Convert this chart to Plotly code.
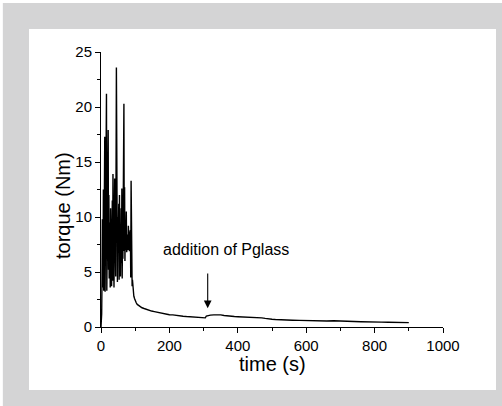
import plotly.graph_objects as go

# time (s) and torque (Nm)
time_s = [0, 1, 2, 3, 4, 5, 6, 7, 8, 9, 11, 12, 13, 14, 16, 17, 18, 19, 21, 22, 23, 24,
          26, 27, 28, 29, 30, 31, 33, 34, 35, 36, 37, 38, 40, 41, 42, 43, 45, 46, 47, 48,
          49, 50, 52, 53, 54, 55, 56, 57, 59, 60, 61, 62, 63, 64, 66, 67, 68, 69, 70, 71,
          72, 74, 75, 76, 77, 78, 79, 80, 81, 82, 83, 84, 85, 86, 87, 88, 89, 90, 91, 92,
          93, 94, 95, 96, 98, 100, 103, 106, 110, 115, 120, 126, 132, 140, 148, 156, 165,
          174, 183, 192, 200, 210, 220, 230, 240, 250, 260, 270, 280, 290, 300, 305, 308,
          312, 320, 330, 340, 350, 360, 370, 380, 390, 400, 410, 420, 430, 440, 450, 460,
          470, 480, 490, 500, 510, 520, 540, 560, 580, 600, 620, 640, 660, 680, 700, 720,
          740, 760, 780, 800, 820, 840, 860, 880, 900]
torque_nm = [0.0, 0.3, 1.2, 4.5, 9.8, 3.6, 6.0, 12.5, 3.3, 9.0, 17.3, 3.2, 12.0, 4.0, 21.2,
             3.3, 11.5, 4.6, 17.9, 5.2, 12.0, 4.4, 9.5, 3.6, 10.8, 5.0, 8.0, 3.7, 11.5, 4.2,
             13.9, 4.9, 9.8, 3.6, 13.5, 6.2, 10.5, 4.6, 23.6, 5.0, 13.2, 4.1, 10.0, 6.8, 11.2,
             4.3, 12.0, 5.6, 9.2, 4.6, 10.8, 5.8, 12.6, 4.4, 9.5, 6.2, 12.4, 20.3, 6.9, 12.7,
             6.0, 9.5, 7.0, 10.5, 6.8, 9.0, 7.2, 8.4, 7.0, 9.2, 7.3, 8.0, 6.9, 8.5, 7.0, 8.8,
             4.5, 13.3, 4.0, 4.5, 3.7, 4.3, 3.6, 3.8, 3.0, 2.8, 2.6, 2.4, 2.2, 2.05, 1.95,
             1.85, 1.75, 1.68, 1.6, 1.52, 1.45, 1.4, 1.33, 1.28, 1.22, 1.18, 1.12, 1.1, 1.04,
             1.0, 0.98, 0.95, 0.92, 0.9, 0.88, 0.85, 0.82, 0.83, 1.0, 1.05, 1.08, 1.1, 1.12,
             1.1, 1.05, 1.0, 0.98, 0.95, 0.93, 0.92, 0.9, 0.9, 0.88, 0.9, 0.87, 0.83, 0.78,
             0.72, 0.7, 0.68, 0.68, 0.65, 0.62, 0.6, 0.58, 0.57, 0.55, 0.55, 0.57, 0.53, 0.5,
             0.5, 0.48, 0.45, 0.45, 0.44, 0.43, 0.43, 0.42, 0.4]

x_ticks = [0, 200, 400, 600, 800, 1000]
y_ticks = [0, 5, 10, 15, 20, 25]

x_title = "time (s)"
y_title = "torque (Nm)"
annotation_text = "addition of Pglass"
arrow_time, arrow_tip, arrow_tail = 312, 1.7, 5.0
label_time, label_torque = 365, 7.05

FONT = "Liberation Sans, Arial, sans-serif"
GREY = "#d4d4d5"

fig = go.Figure()
fig.add_trace(go.Scatter(x=time_s, y=torque_nm, mode="lines",
                         line=dict(color="black", width=1.4), showlegend=False,
                         hoverinfo="skip"))

axis_common = dict(showline=True, linecolor="black", linewidth=1, ticks="outside",
                   ticklen=5, tickwidth=1, tickcolor="black", showgrid=False,
                   zeroline=False, mirror=False,
                   tickfont=dict(family=FONT, size=15, color="black"))

fig.update_xaxes(range=[0, 1000], tickvals=x_ticks, ticktext=[str(v) for v in x_ticks],
                 minor=dict(dtick=100, tick0=0, ticks="outside", ticklen=3,
                            tickcolor="black", tickwidth=1),
                 **axis_common)
fig.update_yaxes(range=[0, 25], tickvals=y_ticks, ticktext=[str(v) for v in y_ticks],
                 minor=dict(dtick=2.5, tick0=0, ticks="outside", ticklen=3,
                            tickcolor="black", tickwidth=1),
                 **axis_common)

# axis titles placed as in the reference
fig.add_annotation(x=0.5, y=-0.135, xref="paper", yref="paper", text=x_title,
                   showarrow=False, xanchor="center", yanchor="middle",
                   font=dict(family=FONT, size=20, color="black"))
fig.add_annotation(x=-0.111, y=0.44, xref="paper", yref="paper", text=y_title,
                   showarrow=False, xanchor="center", yanchor="middle", textangle=-90,
                   font=dict(family=FONT, size=20, color="black"))

fig.add_annotation(x=arrow_time, y=arrow_tip, ax=arrow_time, ay=arrow_tail,
                   xref="x", yref="y", axref="x", ayref="y", text="",
                   showarrow=True, arrowhead=2, arrowsize=1.4, arrowwidth=1.1,
                   arrowcolor="black")
fig.add_annotation(x=label_time, y=label_torque, xref="x", yref="y",
                   text=annotation_text, showarrow=False,
                   font=dict(family=FONT, size=16, color="black"))

# thin white border at top/left, white card in the grey frame
fig.add_shape(type="rect", xref="paper", yref="paper", x0=-0.4, x1=1.4,
              y0=1.178, y1=1.4, fillcolor="white", line=dict(width=0), layer="below")
fig.add_shape(type="rect", xref="paper", yref="paper", x0=-0.4, x1=-0.287,
              y0=-0.4, y1=1.4, fillcolor="white", line=dict(width=0), layer="below")
fig.add_shape(type="rect", xref="paper", yref="paper", x0=-0.2105, x1=1.155,
              y0=-0.229, y1=1.0836, fillcolor="white", line=dict(width=0), layer="below")

fig.update_layout(width=508, height=412, margin=dict(l=101, r=65, t=52, b=85),
                  paper_bgcolor=GREY, plot_bgcolor="white",
                  font=dict(family=FONT, color="black"))

fig.write_html("out.html", config={"displayModeBar": False},
               post_script="document.documentElement.style.background='" + GREY + "';"
                           "document.documentElement.style.overflow='hidden';"
                           "document.body.style.margin='0';"
                           "document.body.style.overflow='hidden';"
                           "document.body.style.background='" + GREY + "';")
